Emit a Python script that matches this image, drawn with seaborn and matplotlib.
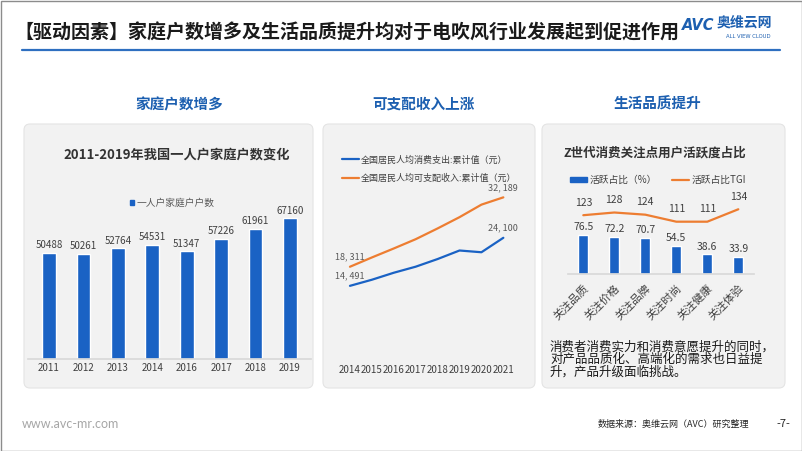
import numpy as np
import pandas as pd
import seaborn as sns
import matplotlib.pyplot as plt
from matplotlib.patches import FancyBboxPatch, Rectangle, Patch
from matplotlib.lines import Line2D

# data
years_hh = ['2011', '2012', '2013', '2014', '2016', '2017', '2018', '2019']
households = [50488, 50261, 52764, 54531, 51347, 57226, 61961, 67160]

years_inc = [2014, 2015, 2016, 2017, 2018, 2019, 2020, 2021]
spending = [14491, 15712, 17111, 18322, 19853, 21559, 21210, 24100]
income = [18311, 20167, 21966, 23821, 25974, 28228, 30733, 32189]
inc_labels = ['全国居民人均消费支出:累计值（元）', '全国居民人均可支配收入:累计值（元）']

focus = ['关注品质', '关注价格', '关注品牌', '关注时尚', '关注健康', '关注体验']
share = [76.5, 72.2, 70.7, 54.5, 38.6, 33.9]
tgi = [123, 128, 124, 111, 111, 134]

blue = '#1a62c4'
orange = '#ed7d31'
head_blue = '#1c5fb0'
txt = '#404040'

sns.set_theme(style='white')
plt.rcParams['font.family'] = ['Noto Sans CJK SC', 'DejaVu Sans']

W, H = 802, 451
fig = plt.figure(figsize=(W / 100, H / 100), dpi=100)


def box(x0, y0, x1, y1):
    return [x0 / W, 1 - y1 / H, (x1 - x0) / W, (y1 - y0) / H]


# background layer in pixel coords
bg = fig.add_axes([0, 0, 1, 1])
bg.set_xlim(0, W)
bg.set_ylim(H, 0)
bg.axis('off')
bg.add_patch(Rectangle((0.5, 0.5), W - 1, H - 1, fill=False, ec='#8c8c8c', lw=1))

# title + logo
bg.text(14, 33, '【驱动因素】家庭户数增多及生活品质提升均对于电吹风行业发展起到促进作用',
        fontsize=13.7, fontweight='bold', color='#1a1a1a', va='center', ha='left')
bg.plot([22, 780], [49.5, 49.5], color='#2e6fc0', lw=1.6)
bg.text(682, 25, 'AVC', fontsize=10.5, fontweight='bold', style='italic', color='#1c5fb0',
        va='center', ha='left', family=['DejaVu Sans'])
bg.text(717, 23, '奥维云网', fontsize=10, fontweight='bold', color='#1c5fb0', va='center', ha='left')
bg.text(726, 37, 'ALL VIEW CLOUD', fontsize=3.8, color='#1c5fb0', va='center', ha='left',
        family=['DejaVu Sans'])

# section headings
for x, s in [(179, '家庭户数增多'), (424, '可支配收入上涨'), (657, '生活品质提升')]:
    bg.text(x, 104, s, fontsize=10.5, fontweight='bold', color=head_blue, ha='center', va='center')

# panels
for x0, x1 in [(24, 313), (323, 535), (542, 785)]:
    bg.add_patch(FancyBboxPatch((x0, 124), x1 - x0, 264,
                                boxstyle='round,pad=0,rounding_size=6',
                                fc='#f2f2f2', ec='#e4e4e4', lw=0.8))

# footer
bg.text(22, 424, 'www.avc-mr.com', fontsize=9, color='#a6a6a6', va='center', ha='left',
        family=['Lato', 'DejaVu Sans'])
bg.text(598, 424, '数据来源：奥维云网（AVC）研究整理', fontsize=6.5, color='#262626', va='center', ha='left')
bg.text(783, 424, '-7-', fontsize=8, color='#262626', va='center', ha='center')

# panel 1: households bar chart
bg.text(177, 155, '2011-2019年我国一人户家庭户数变化', fontsize=9.5, fontweight='bold',
        color='#333333', ha='center', va='center')
ax1 = fig.add_axes(box(28.4, 190, 310.6, 359))
sns.barplot(x=years_hh, y=households, color=blue, width=0.4, ax=ax1, saturation=1)
ax1.bar_label(ax1.containers[0], padding=2, fontsize=7, color=txt)
ax1.set_ylim(0, 80670)
ax1.set_xlim(-0.6, 7.6)
ax1.set_facecolor('none')
ax1.set_yticks([])
ax1.tick_params(axis='x', length=0, labelsize=7, labelcolor=txt, pad=3)
for s in ['top', 'right', 'left']:
    ax1.spines[s].set_visible(False)
ax1.spines['bottom'].set_color('#d9d9d9')
ax1.legend(handles=[Patch(color=blue)], labels=['一人户家庭户户数'], loc='center',
           bbox_to_anchor=(172 / W, 1 - 203 / H), bbox_transform=fig.transFigure,
           frameon=False, fontsize=7, handlelength=0.5, handleheight=0.5,
           handletextpad=0.2, labelcolor='#595959')

# panel 2: income / spending lines
df = pd.DataFrame({
    'year': years_inc * 2,
    'value': spending + income,
    'series': [inc_labels[0]] * len(years_inc) + [inc_labels[1]] * len(years_inc),
})
ax2 = fig.add_axes(box(339, 180, 514.3, 358.3))
sns.lineplot(data=df, x='year', y='value', hue='series', palette=[blue, orange],
             linewidth=1.6, ax=ax2, legend=False)
ax2.set_xlim(2013.5, 2021.5)
ax2.set_ylim(0, 35660)
ax2.set_facecolor('none')
ax2.set_xlabel('')
ax2.set_ylabel('')
ax2.set_yticks([])
ax2.set_xticks(years_inc)
ax2.tick_params(axis='x', length=0, labelsize=7, labelcolor=txt, pad=5)
for s in ax2.spines.values():
    s.set_visible(False)
for ser in (spending, income):
    for i in (0, -1):
        ax2.annotate(f'{ser[i]:,}'.replace(',', ', '), (years_inc[i], ser[i]),
                     xytext=(0, 7), textcoords='offset points', ha='center', va='center',
                     fontsize=6.5, color='#595959')
ax2.legend(handles=ax2.lines[:2], labels=inc_labels, loc='upper left',
           bbox_to_anchor=(334 / W, 1 - 147 / H), bbox_transform=fig.transFigure,
           frameon=False, fontsize=6.5, handlelength=1.9, handletextpad=0.2,
           labelspacing=1.0, labelcolor=txt)

# panel 3: Z generation bars + TGI line
bg.text(655, 153, 'Z世代消费关注点用户活跃度占比', fontsize=9, fontweight='bold',
        color='#333333', ha='center', va='center')
ax3 = fig.add_axes(box(567.8, 190, 753.8, 274))
sns.barplot(x=focus, y=share, color=blue, width=0.32, ax=ax3, saturation=1)
ax3.bar_label(ax3.containers[0], fmt='%.1f', padding=2, fontsize=7.5, color=txt)
ax3.set_ylim(0, 164.7)
ax3.set_facecolor('none')
ax3.set_yticks([])
ax3.set_xticks(range(len(focus)))
ax3.set_xticklabels(focus, rotation=45, ha='right', rotation_mode='anchor',
                    fontsize=8, color=txt)
ax3.tick_params(axis='x', length=0, pad=6)
for s in ['top', 'right', 'left']:
    ax3.spines[s].set_visible(False)
ax3.spines['bottom'].set_color('#d9d9d9')

ax3t = ax3.twinx()
sns.lineplot(x=np.arange(len(focus)), y=tgi, color=orange, linewidth=1.6, ax=ax3t)
ax3t.set_ylim(14.1, 169.7)
ax3t.set_yticks([])
for s in ax3t.spines.values():
    s.set_visible(False)
for i, v in enumerate(tgi):
    ax3t.annotate(str(v), (i, v), xytext=(0, 9), textcoords='offset points',
                  ha='center', va='center', fontsize=7.5, color=txt)
ax3.set_xlim(-0.5, 5.5)

ax3.legend(handles=[Patch(color=blue), Line2D([], [], color=orange, lw=1.6)],
           labels=['活跃占比（%）', '活跃占比TGI'], ncol=2, loc='center',
           bbox_to_anchor=(658 / W, 1 - 180 / H), bbox_transform=fig.transFigure,
           frameon=False, fontsize=7, handlelength=1.75, handleheight=0.5,
           handletextpad=0.2, columnspacing=1.6, labelcolor=txt)

for k, line in enumerate(['消费者消费实力和消费意愿提升的同时，',
                          '对产品品质化、高端化的需求也日益提',
                          '升，产品升级面临挑战。']):
    bg.text(550, 346.7 + k * 12.8, line, fontsize=9, color='#1a1a1a', ha='left', va='center')

fig.savefig('out.png', dpi=100)
